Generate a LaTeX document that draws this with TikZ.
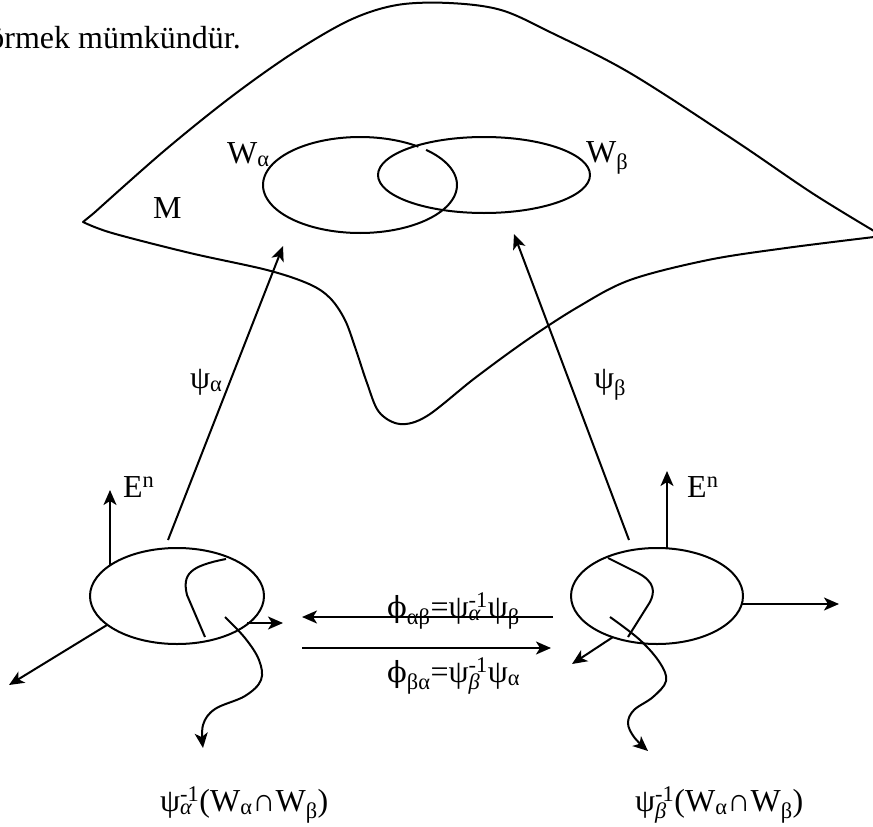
\documentclass[tikz,border=0pt]{standalone}
\usepackage{fontspec}
\setmainfont{Liberation Serif}
\newfontfamily\dvs{DejaVu Serif}
\usetikzlibrary{arrows.meta,shapes.geometric}
\newcommand\supsub[2]{\setbox0\hbox{\textsuperscript{#1}}\setbox2\hbox{\textsubscript{#2}}%
  \ifdim\wd0>\wd2 \rlap{\box2}\box0\else\rlap{\box0}\box2\fi}
\newcommand\myphi{{\dvs\fontsize{29}{34}\selectfont ϕ}}
\tikzset{
  ln/.style={line width=2pt, line join=round},
  arr/.style={line width=2pt, -{Stealth[length=15pt,width=13pt,inset=4pt]}},
  lbl/.style={inner sep=0pt, font=\fontsize{32}{38}\selectfont, anchor=base west},
}
\begin{document}
\begin{tikzpicture}[x=1pt,y=-1pt]
\useasboundingbox (0,0) rectangle (873,827);

% manifold M outline
\draw[ln] plot[smooth, tension=0.55] coordinates {(874,237) (786,248) (708,260) (630,280) (578,307) (527,340) (475,378) (427,416) (400,424) (379,412) (367,383) (356,350) (345,320) (330,298) (309,284) (267,270) (190,253) (112,233) (83,222)}
  -- (94,213) -- plot[smooth, tension=0.55] coordinates {(94,213) (164,151) (231,97) (293,53) (350,20) (397,5) (449,3) (501,10) (552,33) (630,73) (734,140) (812,193) (874,231)};

% W alpha / W beta
\draw[ln] plot[domain=-47:307, samples=120, variable=\t] ({360+97*cos(\t)}, {185+48*sin(\t)});
\draw[ln] (484,175) ellipse [x radius=106, y radius=38];

% chart domains
\node[draw, ln, ellipse, minimum width=174pt, minimum height=96pt, inner sep=0pt] (UA) at (177,596) {};
\node[draw, ln, ellipse, minimum width=172pt, minimum height=96pt, inner sep=0pt] (UB) at (657,596) {};

% coordinates
\coordinate (pa0) at (168,540);  \coordinate (pa1) at (283,246);
\coordinate (pb0) at (629,540);  \coordinate (pb1) at (514,234);
\coordinate (ea0) at (110,565);  \coordinate (ea1) at (110,490);
\coordinate (eb0) at (667,548);  \coordinate (eb1) at (667,471);
\coordinate (xa0) at (247,623);  \coordinate (xa1) at (283,623);
\coordinate (ya0) at (107,625);  \coordinate (ya1) at (9,685);
\coordinate (xb0) at (742,604);  \coordinate (xb1) at (839,604);
\coordinate (yb0) at (613,637);  \coordinate (yb1) at (572,664);
\coordinate (m10) at (553,617);  \coordinate (m11) at (302,617);
\coordinate (m20) at (302,648);  \coordinate (m21) at (551,648);

\draw[arr] (pa0) -- (pa1);
\draw[arr] (pb0) -- (pb1);
\draw[arr] (ea0) -- (ea1);
\draw[arr] (eb0) -- (eb1);
\draw[arr] (xa0) -- (xa1);
\draw[arr] (ya0) -- (ya1);
\draw[arr] (xb0) -- (xb1);
\draw[arr] (yb0) -- (yb1);
\draw[arr] (m10) -- (m11);
\draw[arr] (m20) -- (m21);

% inner curves
\draw[ln] (226,559) .. controls (190,566) and (182,574) .. (187,595) -- (205,637);
\draw[ln] (608,558) -- (638,573) .. controls (655,582) and (655,592) .. (650,602) -- (628,637);

% wavy arrows
\draw[arr] plot[smooth, tension=0.6] coordinates {(225,617) (245,638) (259,660) (261,680) (245,696) (215,709) (203,725) (203,748)};
\draw[arr] plot[smooth, tension=0.6] coordinates {(610,617) (640,640) (660,663) (666,681) (653,697) (634,710) (628,723) (634,737) (648,751)};

% labels
\node[lbl, anchor=base east] (top) at (241,48) {örmek mümkündür.};
\node[lbl] (M) at (153,218) {M};
\node[lbl] (Wa) at (227,163) {W\textsubscript{α}};
\node[lbl] (Wb) at (586,162) {W\textsubscript{β}};
\node[lbl] (psia) at (190,388) {ψ\textsubscript{α}};
\node[lbl] (psib) at (594,388) {ψ\textsubscript{β}};
\node[lbl] (Ena) at (123,497) {E\textsuperscript{n}};
\node[lbl] (Enb) at (687,497) {E\textsuperscript{n}};
\node[lbl] (phiab) at (387,617) {\myphi\textsubscript{αβ}=ψ\supsub{-1}{\textit{α}} ψ\textsubscript{β}};
\node[lbl] (phiba) at (387,682) {\myphi\textsubscript{βα}=ψ\supsub{-1}{\textit{β}}ψ\textsubscript{α}};
\node[lbl] (ia) at (160,811) {ψ\supsub{-1}{\textit{α}} (W\textsubscript{α}∩W\textsubscript{β})};
\node[lbl] (ib) at (635,811) {ψ\supsub{-1}{\textit{β}}(W\textsubscript{α}∩W\textsubscript{β})};
\end{tikzpicture}
\end{document}
